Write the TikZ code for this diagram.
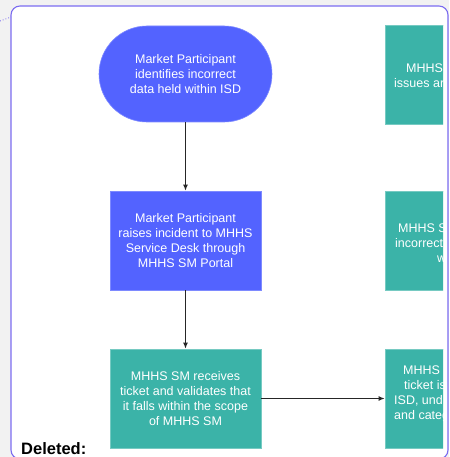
\documentclass[tikz,border=0pt]{standalone}
\usepackage{fontspec}
\setmainfont{Liberation Sans}
\usetikzlibrary{arrows.meta}
\definecolor{mpblue}{HTML}{5363FF}
\definecolor{smteal}{HTML}{3BB3A8}
\definecolor{framepurple}{HTML}{7B6CF0}
\definecolor{pagegray}{HTML}{F2F2F2}

\begin{document}
\begin{tikzpicture}[x=1pt,y=-1pt,
      boxtext/.style={text=white,align=center,font=\fontsize{12.5}{15}\selectfont},
      mpbox/.style={boxtext,fill=mpblue,draw=mpblue!75!white,line width=0.6pt,
        minimum width=151pt,minimum height=99pt,inner sep=0pt},
      smbox/.style={boxtext,fill=smteal,draw=smteal!70!white,line width=0.6pt,
        minimum width=151pt,minimum height=99pt,inner sep=0pt},
      frag/.style={text=white,anchor=base west,inner sep=0pt,font=\fontsize{12.5}{15}\selectfont},
      flow/.style={-{Latex[length=6pt,width=5pt]},line width=1.2pt,draw=black!85}]
      \useasboundingbox[fill=pagegray] (0,0) rectangle (449,457);
      \draw[framepurple,line width=1.1pt,fill=white,rounded corners=9pt] (11,6) rectangle (448,459);
      \coordinate (offpage) at (0,21);
      \coordinate (framein) at (11,17);
      \draw[framepurple,dotted,line width=0.9pt] (offpage) -- (framein);

      % left column
      \node[mpbox,minimum width=173pt,minimum height=96pt,rounded corners=48pt] (identify) at (185.5,74)
        {Market Participant\\identifies incorrect\\data held within ISD};
      \node[mpbox] (raise) at (185.5,240.5)
        {Market Participant\\raises incident to MHHS\\Service Desk through\\MHHS SM Portal};
      \node[smbox] (receive) at (185.5,398.5)
        {MHHS SM receives\\ticket and validates that\\it falls within the scope\\of MHHS SM};

      % right column, cut at the page edge
      \begin{scope}
        \clip (0,0) rectangle (443,457);
        \node[smbox] (triage) at (460.5,74.5) {};
        \node[smbox] (correct) at (460.5,240.5) {};
        \node[smbox] (categorise) at (460.5,398.5) {};
        \node[frag] at (406,73) {MHHS};
        \node[frag] at (394,88) {issues ar};
        \node[frag] at (398,232) {MHHS S};
        \node[frag] at (395,247) {incorrect};
        \node[frag] at (437,262) {w};
        \node[frag] at (403,374) {MHHS};
        \node[frag] at (404,389) {ticket is};
        \node[frag] at (394,404) {ISD, und};
        \node[frag] at (394,419) {and categ};
      \end{scope}

      \draw[flow] (identify) -- (raise);
      \draw[flow] (raise) -- (receive);
      \draw[flow] (receive) -- (categorise);

      \node[anchor=base west,inner sep=0pt,font=\fontsize{16.5}{18}\selectfont\bfseries] (deleted) at (21,454) {Deleted:};
    \end{tikzpicture}
\end{document}
